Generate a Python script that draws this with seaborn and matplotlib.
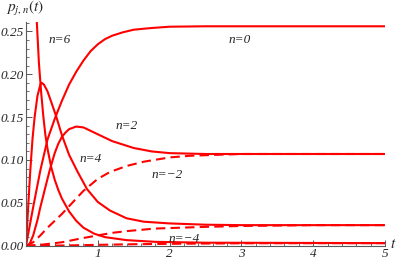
import numpy as np
import pandas as pd
import matplotlib
matplotlib.use("Agg")
import matplotlib.pyplot as plt
import seaborn as sns
from matplotlib.ticker import MultipleLocator, FixedLocator

# values
t_n0 = [0, 0.1, 0.2, 0.3, 0.4, 0.5, 0.6, 0.7, 0.8, 0.9, 1.0, 1.1, 1.2, 1.35, 1.5, 1.75, 2.0, 2.5, 3.0, 4.0, 5.0]
p_n0 = [0, 0.045, 0.088, 0.124, 0.148, 0.169, 0.188, 0.203, 0.216, 0.227, 0.235, 0.241, 0.245, 0.249, 0.252, 0.254, 0.2555, 0.256, 0.256, 0.256, 0.256]

t_n2 = [0, 0.05, 0.1, 0.16, 0.2, 0.26, 0.33, 0.4, 0.45, 0.5, 0.55, 0.6, 0.7, 0.8, 0.9, 1.0, 1.2, 1.5, 1.75, 2.0, 2.5, 3.0, 5.0]
p_n2 = [0, 0.002, 0.012, 0.030, 0.045, 0.065, 0.088, 0.108, 0.119, 0.127, 0.132, 0.136, 0.139, 0.138, 0.134, 0.130, 0.122, 0.114, 0.110, 0.108, 0.107, 0.107, 0.107]

t_n4 = [0, 0.03, 0.06, 0.09, 0.12, 0.16, 0.2, 0.22, 0.25, 0.3, 0.35, 0.42, 0.5, 0.6, 0.72, 0.85, 1.0, 1.17, 1.4, 1.64, 2.0, 2.5, 3.0, 5.0]
p_n4 = [0, 0.045, 0.088, 0.124, 0.150, 0.175, 0.188, 0.190, 0.188, 0.180, 0.168, 0.151, 0.129, 0.106, 0.086, 0.066, 0.051, 0.041, 0.032, 0.028, 0.026, 0.0245, 0.024, 0.024]

t_n6 = [0, 0.05, 0.1, 0.15, 0.18, 0.21, 0.24, 0.27, 0.3, 0.35, 0.4, 0.45, 0.5, 0.6, 0.7, 0.8, 0.95, 1.1, 1.4, 1.8, 2.5, 5.0]
p_n6 = [1.0, 0.68, 0.44, 0.262, 0.213, 0.180, 0.152, 0.129, 0.113, 0.092, 0.077, 0.065, 0.055, 0.040, 0.029, 0.021, 0.014, 0.010, 0.0065, 0.0045, 0.0035, 0.003]

t_m2 = [0, 0.1, 0.2, 0.3, 0.4, 0.5, 0.6, 0.7, 0.8, 1.0, 1.17, 1.4, 1.64, 2.0, 2.3, 3.0, 5.0]
p_m2 = [0, 0.004, 0.012, 0.021, 0.029, 0.037, 0.046, 0.055, 0.064, 0.078, 0.086, 0.093, 0.098, 0.103, 0.105, 0.107, 0.107]

t_m4 = [0, 0.2, 0.5, 0.8, 1.0, 1.2, 1.4, 1.8, 2.5, 3.0, 4.0, 5.0]
p_m4 = [0, 0.001, 0.004, 0.009, 0.012, 0.015, 0.017, 0.020, 0.022, 0.023, 0.024, 0.024]

t_m6 = [0, 0.5, 1.0, 1.5, 2.0, 3.0, 5.0]
p_m6 = [0, 0.0002, 0.001, 0.0017, 0.0022, 0.0028, 0.003]

labels = ["n=6", "n=0", "n=2", "n=4", "n=\u22122", "n=\u22124"]
label_t = [0.47, 2.98, 1.40, 0.90, 1.96, 2.20]
label_p = [0.240, 0.240, 0.140, 0.101, 0.083, 0.008]

sns.set_style("ticks")
plt.rcParams["font.family"] = ["Liberation Serif", "DejaVu Serif"]
plt.rcParams["mathtext.fontset"] = "stix"

fig = plt.figure(figsize=(3.99, 2.62), dpi=100)
ax = fig.add_axes([26 / 399, 16.3 / 262, 359 / 399, 223.7 / 262])

solid = [(t_n0, p_n0), (t_n2, p_n2), (t_n4, p_n4), (t_n6, p_n6)]
dashed = [(t_m2, p_m2), (t_m4, p_m4), (t_m6, p_m6)]

for t, p in solid:
    sns.lineplot(x=t, y=p, ax=ax, color="red", linewidth=1.5, sort=False)
for t, p in dashed:
    sns.lineplot(x=t, y=p, ax=ax, color="red", linewidth=1.5, sort=False,
                 linestyle=(0, (4.5, 2.5)))

for txt, x, y in zip(labels, label_t, label_p):
    ax.text(x, y, txt, fontsize=9.5, style="italic", ha="center", va="center")

ax.set_xlim(0, 5)
ax.set_ylim(0, 0.261)
sns.despine(ax=ax)
for s in ["left", "bottom"]:
    ax.spines[s].set_color("0.35")
    ax.spines[s].set_linewidth(0.8)

ax.xaxis.set_major_locator(FixedLocator([1, 2, 3, 4, 5]))
ax.xaxis.set_minor_locator(MultipleLocator(0.2))
ax.yaxis.set_major_locator(MultipleLocator(0.05))
ax.yaxis.set_minor_locator(MultipleLocator(0.01))
ax.set_yticklabels([f"{v:.2f}" for v in ax.get_yticks()])
ax.tick_params(which="major", direction="in", length=4, width=0.7, color="0.35",
               labelsize=9.5, pad=1.5)
ax.tick_params(which="minor", direction="in", length=2, width=0.6, color="0.35")
for lbl in ax.get_xticklabels() + ax.get_yticklabels():
    lbl.set_fontstyle("italic")
ax.set_xlabel("")
ax.set_ylabel("")

fig.text(25 / 399, 1 - 8 / 262, r"$p_{j,n}(t)$", fontsize=11, ha="center", va="center")
fig.text(393 / 399, 1 - 244 / 262, r"$t$", fontsize=11, ha="center", va="center")

fig.savefig("out.png", dpi=100)
